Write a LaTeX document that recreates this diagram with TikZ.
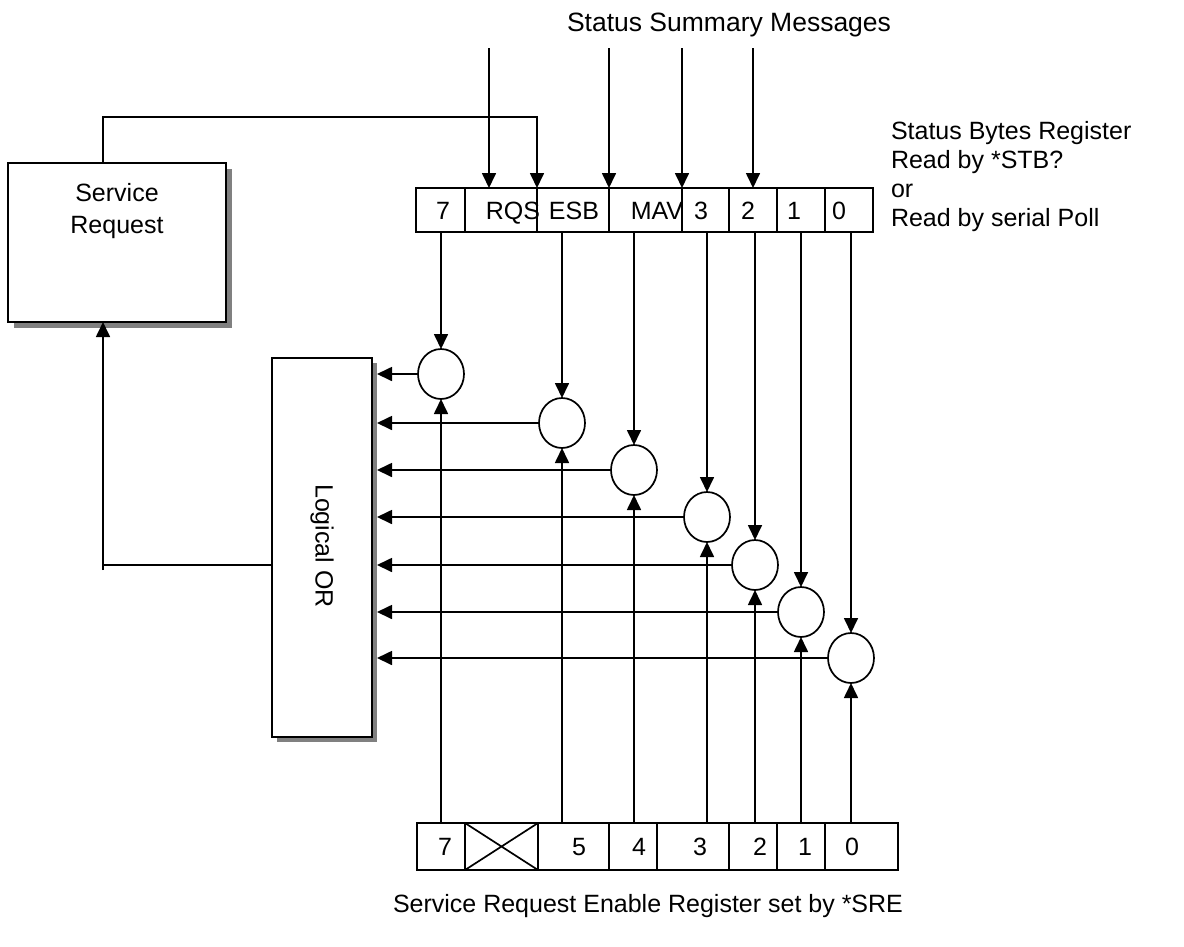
\documentclass[tikz,border=0pt]{standalone}
\usepackage{fontspec}
\setmainfont{Liberation Sans}
\usetikzlibrary{arrows.meta,calc,shapes.geometric}
\begin{document}
\begin{tikzpicture}[x=1pt,y=-1pt,
  every node/.style={font=\fontsize{25}{29}\selectfont, inner sep=0pt, outer sep=0pt},
  ln/.style={line width=1.7pt},
  arr/.style={line width=1.7pt,-{Triangle[length=15pt,width=14pt]}},
  box/.style={draw,line width=1.7pt,fill=white,anchor=north west},
  shade/.style={fill=black!50,draw=none,anchor=north west},
  gate/.style={draw,line width=1.7pt,ellipse,minimum width=46pt,minimum height=50pt,fill=white},
  cell/.style={draw,line width=1.7pt,anchor=north west,minimum height=44pt},
  bcell/.style={draw,line width=1.7pt,anchor=north west,minimum height=47pt},
  lab/.style={anchor=base}]
\useasboundingbox (0,0) rectangle (1184,946);

% title
\node[font=\fontsize{26.5}{30}\selectfont] (title) at (729,25) {Status Summary Messages};

% Service Request box
\node[shade, minimum width=218pt, minimum height=159pt] (srsh) at (14,169) {};
\node[box, minimum width=218pt, minimum height=159pt] (sr) at (8,163) {};
\node[align=center, font=\fontsize{25}{32}\selectfont] (srt) at (117,211) {Service\\Request};

% Logical OR box
\node[shade, minimum width=100pt, minimum height=379pt] (lorsh) at (277,363) {};
\node[box, minimum width=100pt, minimum height=379pt] (lor) at (272,358) {};
\node[rotate=-90] (lort) at (322,546) {Logical OR};

% Status byte register
\node[cell, minimum width=49pt] (t7) at (416,188) {};
\node[cell, minimum width=72pt] (t6) at (465,188) {};
\node[cell, minimum width=72pt] (t5) at (537,188) {};
\node[cell, minimum width=73pt] (t4) at (609,188) {};
\node[cell, minimum width=47pt] (t3) at (682,188) {};
\node[cell, minimum width=48pt] (t2) at (729,188) {};
\node[cell, minimum width=48pt] (t1) at (777,188) {};
\node[cell, minimum width=48pt] (t0) at (825,188) {};
\node[lab] (lt7) at (443,219) {7};
\node[lab] (lt6) at (513,219) {RQS};
\node[lab] (lt5) at (574,219) {ESB};
\node[lab] (lt4) at (657,219) {MAV};
\node[lab] (lt3) at (701,219) {3};
\node[lab] (lt2) at (748,219) {2};
\node[lab] (lt1) at (794,219) {1};
\node[lab] (lt0) at (839,219) {0};

% right texts
\node[anchor=base west] (r1) at (891,139) {Status Bytes Register};
\node[anchor=base west] (r2) at (891,168) {Read by *STB?};
\node[anchor=base west] (r3) at (891,197) {or};
\node[anchor=base west] (r4) at (891,226) {Read by serial Poll};

% Service request enable register
\node[bcell, minimum width=48pt] (b7) at (417,823) {};
\node[bcell, minimum width=73pt] (b6) at (465,823) {};
\node[bcell, minimum width=71pt] (b5) at (538,823) {};
\node[bcell, minimum width=48pt] (b4) at (609,823) {};
\node[bcell, minimum width=72pt] (b3) at (657,823) {};
\node[bcell, minimum width=48pt] (b2) at (729,823) {};
\node[bcell, minimum width=48pt] (b1) at (777,823) {};
\node[bcell, minimum width=73pt] (b0) at (825,823) {};
\draw[ln] (b6.north west) -- (b6.south east) (b6.south west) -- (b6.north east);
\node[lab] (lb7) at (445,855) {7};
\node[lab] (lb5) at (579,855) {5};
\node[lab] (lb4) at (639,855) {4};
\node[lab] (lb3) at (700,855) {3};
\node[lab] (lb2) at (760,855) {2};
\node[lab] (lb1) at (805,855) {1};
\node[lab] (lb0) at (852,855) {0};
\node (bottom) at (648,906) {Service Request Enable Register set by *SRE};

% gates
\node[gate] (g7) at (441,374) {};
\node[gate] (g5) at (562,423) {};
\node[gate] (g4) at (634,470) {};
\node[gate] (g3) at (707,517) {};
\node[gate] (g2) at (755,565) {};
\node[gate] (g1) at (801,612) {};
\node[gate] (g0) at (851,658) {};

% summary message inputs
\coordinate (m6) at (489,48);
\coordinate (m5) at (609,48);
\coordinate (m4) at (682,48);
\coordinate (m2) at (753,48);
\draw[arr] (m6) -- (m6 |- t6.north);
\draw[arr] (m5) -- (m5 |- t5.north);
\draw[arr] (m4) -- (m4 |- t4.north);
\draw[arr] (m2) -- (m2 |- t2.north);

% service request to RQS
\coordinate (srl) at (103,117);
\draw[arr] (srl |- sr.north) -- (srl) -| (t6.north east);

% status bits to gates
\foreach \g/\t in {g7/t7,g5/t5,g4/t4,g3/t3,g2/t2,g1/t1,g0/t0}
  \draw[arr] (\g.north |- \t.south) -- (\g.north);
% enable bits to gates
\foreach \g/\b in {g7/b7,g5/b5,g4/b4,g3/b3,g2/b2,g1/b1,g0/b0}
  \draw[arr] (\g.south |- \b.north) -- (\g.south);
% gates to OR
\foreach \g in {g7,g5,g4,g3,g2,g1,g0}
  \draw[arr] (\g.west) -- (\g.west -| lorsh.east);

% OR to service request
\coordinate (orl) at (103,570);
\draw[ln, line cap=rect] (lor.west |- g2.center) -- (orl |- g2.center);
\draw[arr] (orl) -- (orl |- sr.south);
\end{tikzpicture}
\end{document}
